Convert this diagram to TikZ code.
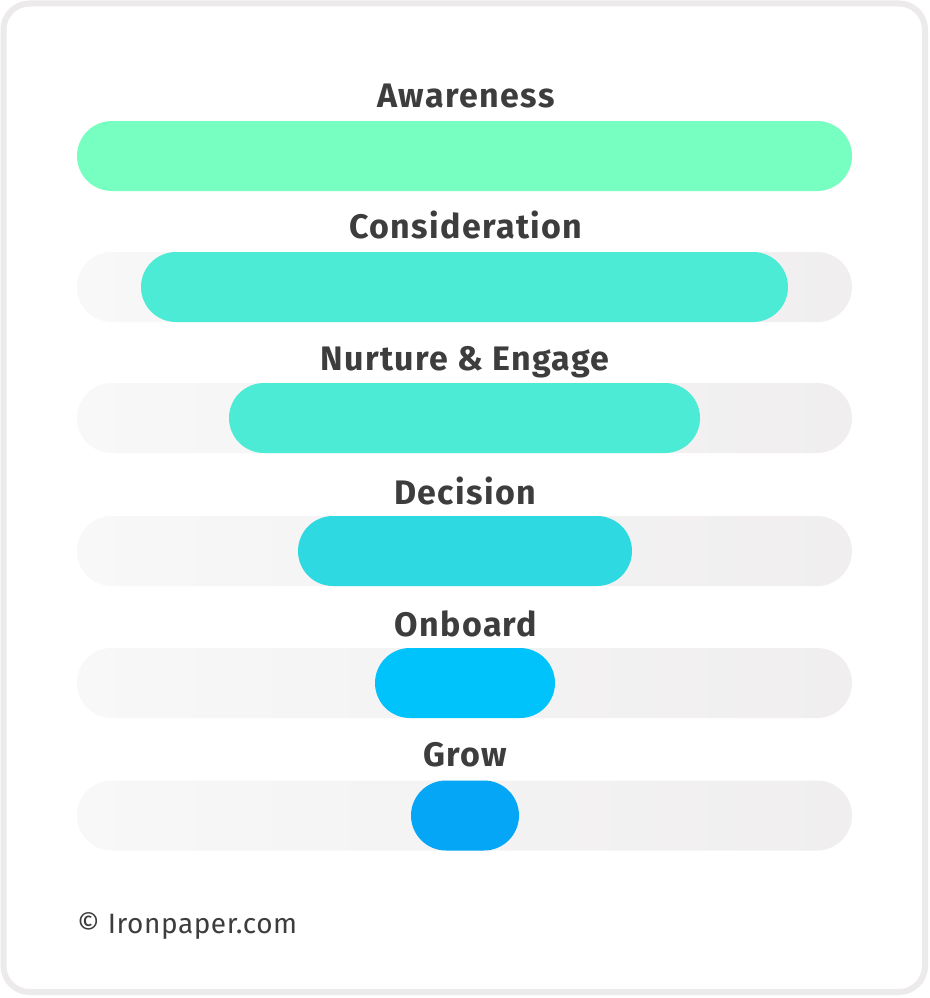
\documentclass[tikz,border=0pt]{standalone}
\usepackage{fontspec}
\setmainfont{Fira Sans}
\newfontfamily\lblfont[LetterSpace=4]{Fira Sans}
\newfontfamily\footfont[LetterSpace=2]{Fira Sans}
\usetikzlibrary{positioning}
\definecolor{frame}{HTML}{ECEAEB}
\definecolor{trackL}{HTML}{F8F8F8}
\definecolor{trackR}{HTML}{F0EEEF}
\definecolor{cAware}{HTML}{76FFC0}
\definecolor{cCons}{HTML}{4BEBD5}
\definecolor{cDec}{HTML}{2FD9E2}
\definecolor{cOn}{HTML}{00C3FC}
\definecolor{cGrow}{HTML}{05A6F5}
\definecolor{txt}{HTML}{3D3D3D}
\tikzset{
  track/.style={minimum width=775pt, minimum height=70pt, rounded corners=35pt, inner sep=0pt, left color=trackL, right color=trackR, draw=none},
  bar/.style={minimum height=70pt, rounded corners=35pt, inner sep=0pt, draw=none},
  lbl/.style={anchor=base, font=\lblfont\bfseries\fontsize{34}{40}\selectfont, text=txt, inner sep=0pt},
  foot/.style={anchor=base west, font=\footfont\fontsize{28}{32}\selectfont, text=txt, inner sep=0pt}
}
\begin{document}
\begin{tikzpicture}[x=1pt,y=-1pt]
\useasboundingbox (0,0) rectangle (929,998);
\fill[white] (0,0) rectangle (929,998);
\draw[frame, line width=6pt, rounded corners=26pt] (3.5,3.5) rectangle (925,992);
% tracks
\node[track] (t2) at (464.5,287) {};
\node[track] (t3) at (464.5,418) {};
\node[track] (t4) at (464.5,551) {};
\node[track] (t5) at (464.5,683) {};
\node[track] (t6) at (464.5,815.5) {};
% bars
\node[bar, fill=cAware, minimum width=775pt] (b1) at (464.5,156) {};
\node[bar, fill=cCons, minimum width=647pt] (b2) at (464.5,287) {};
\node[bar, fill=cCons, minimum width=471pt] (b3) at (464.5,418) {};
\node[bar, fill=cDec, minimum width=334pt] (b4) at (465,551) {};
\node[bar, fill=cOn, minimum width=180pt] (b5) at (465,683) {};
\node[bar, fill=cGrow, minimum width=108pt] (b6) at (465,815.5) {};
% labels
\node[lbl] (l1) at (466,107) {Awareness};
\node[lbl] (l2) at (466,238) {Consideration};
\node[lbl] (l3) at (465,370) {Nurture \& Engage};
\node[lbl] (l4) at (465,504) {Decision};
\node[lbl] (l5) at (466,636) {Onboard};
\node[lbl] (l6) at (465,766) {Grow};
\node[foot] (f) at (77,933) {© Ironpaper.com};
\end{tikzpicture}
\end{document}
